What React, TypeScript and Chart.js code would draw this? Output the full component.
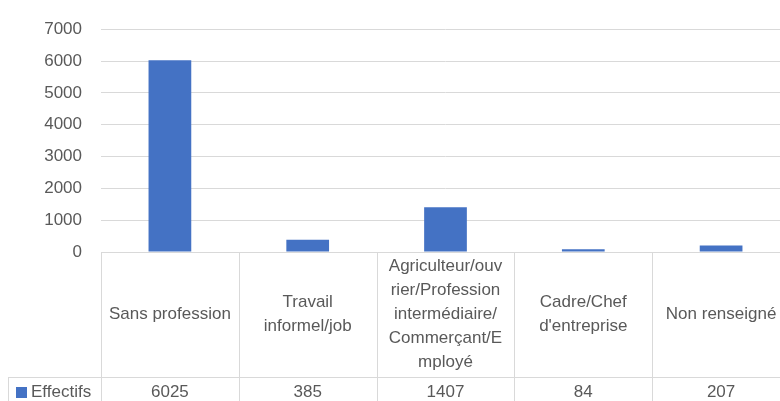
import React, { useEffect, useRef } from "react";
import { Chart, registerables } from "chart.js";

Chart.register(...registerables);

const categories: string[][] = [
  ["Sans profession"],
  ["Travail", "informel/job"],
  ["Agriculteur/ouv", "rier/Profession", "intermédiaire/", "Commerçant/E", "mployé"],
  ["Cadre/Chef", "d'entreprise"],
  ["Non renseigné"],
];
const seriesName = "Effectifs";
const effectifs = [6025, 385, 1407, 84, 207];
const yTicks = [0, 1000, 2000, 3000, 4000, 5000, 6000, 7000];

const FONT = "'Liberation Sans', Arial, sans-serif";
const TEXT = "#595959";
const LINE = "#D9D9D9";
const BAR = "#4472C4";

const tablePlugin = {
  id: "dataTable",
  afterDraw(chart: any) {
    const { ctx, chartArea, scales } = chart;
    const x = scales.x;
    const n = categories.length;
    const catW = (chartArea.right - chartArea.left) / n;
    const top = chartArea.bottom;
    const bottom = chart.height;
    const rowY = 377;
    const legendLeft = 8;
    ctx.save();
    ctx.strokeStyle = LINE;
    ctx.lineWidth = 1;
    ctx.beginPath();
    for (let i = 0; i <= n; i++) {
      const px = Math.round(chartArea.left + i * catW) + 0.5;
      ctx.moveTo(px, top);
      ctx.lineTo(px, bottom);
    }
    ctx.moveTo(legendLeft + 0.5, rowY);
    ctx.lineTo(legendLeft + 0.5, bottom);
    ctx.moveTo(legendLeft, rowY + 0.5);
    ctx.lineTo(chartArea.right, rowY + 0.5);
    ctx.stroke();

    ctx.fillStyle = TEXT;
    ctx.font = `17px ${FONT}`;
    ctx.textAlign = "center";
    ctx.textBaseline = "middle";
    const lh = 24;
    const headMid = (top + rowY) / 2;
    categories.forEach((lines, i) => {
      const cx = x.getPixelForValue(i);
      const start = headMid - ((lines.length - 1) * lh) / 2;
      lines.forEach((l, j) => ctx.fillText(l, cx, start + j * lh));
      ctx.fillText(String(effectifs[i]), cx, 392);
    });
    ctx.fillStyle = BAR;
    ctx.fillRect(16, 387, 11, 11);
    ctx.fillStyle = TEXT;
    ctx.textAlign = "left";
    ctx.fillText(seriesName, 31, 392);
    ctx.restore();
  },
};

export default function App() {
  const ref = useRef<HTMLCanvasElement>(null);
  useEffect(() => {
    if (!ref.current) return;
    const chart = new Chart(ref.current, {
      type: "bar",
      data: {
        labels: categories.map((c) => c.join(" ")),
        datasets: [
          {
            label: seriesName,
            data: effectifs,
            backgroundColor: BAR,
            categoryPercentage: 1,
            barPercentage: 0.31,
          },
        ],
      },
      options: {
        animation: false,
        responsive: false,
        maintainAspectRatio: false,
        layout: { padding: { top: 28, right: 10, bottom: 149, left: 0 } },
        plugins: { legend: { display: false }, tooltip: { enabled: false } },
        scales: {
          x: {
            ticks: { display: false },
            grid: { display: false },
            border: { display: true, color: LINE },
            afterFit: (s: any) => {
              s.height = 0;
            },
          },
          y: {
            min: 0,
            max: 7000,
            afterBuildTicks: (s: any) => {
              s.ticks = yTicks.map((v) => ({ value: v }));
            },
            ticks: {
              padding: 19,
              color: TEXT,
              font: { family: FONT, size: 17 },
              callback: (v: any) => String(v),
            },
            grid: { color: LINE, drawTicks: false },
            border: { display: false },
            afterFit: (s: any) => {
              s.width = 101;
            },
          },
        },
      },
      plugins: [tablePlugin],
    });
    return () => chart.destroy();
  }, []);
  return (
    <div style={{ position: "absolute", left: 0, top: 0, width: 780, height: 401, overflow: "hidden", background: "#fff" }}>
      <canvas ref={ref} width={800} height={401} style={{ width: 800, height: 401, display: "block" }} />
    </div>
  );
}
